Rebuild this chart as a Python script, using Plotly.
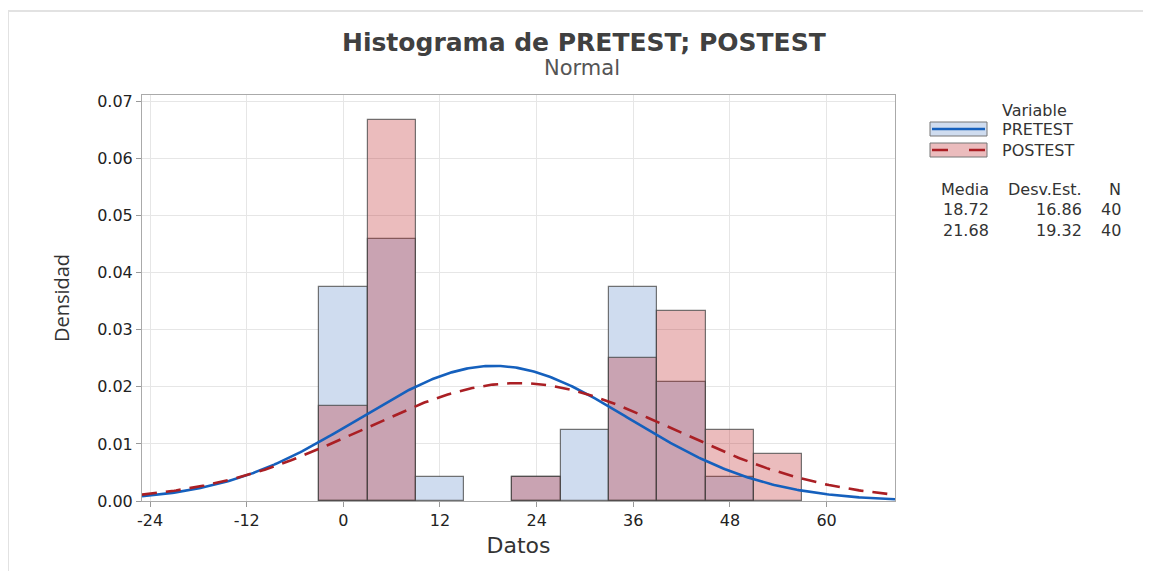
import numpy as np
import plotly.graph_objects as go

# ---- data ----
bin_centers = [0, 6, 12, 18, 24, 30, 36, 42, 48, 54]
bin_width = 6
pretest_density = [0.0375, 0.0458, 0.0042, None, 0.0042, 0.0125, 0.0375, 0.0208, 0.0042, None]
postest_density = [0.0167, 0.0667, None, None, 0.0042, None, 0.0250, 0.0333, 0.0125, 0.0083]

series_names = ["PRETEST", "POSTEST"]
means = [18.72, 21.68]
stdevs = [16.86, 19.32]
counts = [40, 40]

x_ticks = [-24, -12, 0, 12, 24, 36, 48, 60]
x_tick_labels = ["-24", "-12", "0", "12", "24", "36", "48", "60"]
y_ticks = [0.00, 0.01, 0.02, 0.03, 0.04, 0.05, 0.06, 0.07]

# ---- layout geometry (reference page pixels) ----
OFF = 8  # default body margin of the html page
W, H = 1151 - OFF, 571 - OFF
L, R, T, B = 142, 895, 95, 501
FONT = "DejaVu Sans"


def px(x):
    return (x - L) / (R - L)


def py(y):
    return (B - y) / (B - T)


x_range = [-25.0, 68.5]
y_range = [0, 0.0711]

fig = go.Figure()

outline = dict(color="rgba(70,70,70,0.75)", width=1.2)
fig.add_trace(go.Bar(x=bin_centers, y=pretest_density, width=bin_width,
                     marker=dict(color="#cfdcef", line=outline),
                     name=series_names[0], showlegend=False))
fig.add_trace(go.Bar(x=bin_centers, y=postest_density, width=bin_width,
                     marker=dict(color="rgba(188,32,35,0.30)", line=outline),
                     name=series_names[1], showlegend=False))

# fitted normal curves from the stated mean / st.dev.
xs = np.linspace(x_range[0], x_range[1], 400)
curve_styles = [dict(color="#1560bd", width=2.6, dash="solid"),
                dict(color="#aa1f24", width=2.6, dash="15px,9px")]
for m, s, st, nm in zip(means, stdevs, curve_styles, series_names):
    ys = np.exp(-0.5 * ((xs - m) / s) ** 2) / (s * np.sqrt(2 * np.pi))
    fig.add_trace(go.Scatter(x=xs, y=ys, mode="lines", line=st, name=nm,
                             showlegend=False, hoverinfo="skip"))

fig.update_layout(
    width=W, height=H,
    margin=dict(l=L - OFF, r=1151 - R, t=T - OFF, b=571 - B),
    paper_bgcolor="white", plot_bgcolor="white",
    barmode="overlay", bargap=0,
    font=dict(family=FONT, color="#222", size=16),
    showlegend=False,
)
fig.update_xaxes(range=x_range, tickvals=x_ticks, ticktext=x_tick_labels,
                 ticks="outside", ticklen=5,
                 tickcolor="#999", showgrid=True, gridcolor="#e6e6e6",
                 showline=True, linecolor="#aaaaaa", mirror=True, zeroline=False,
                 tickfont=dict(size=16, color="#222"),
                 title=dict(text="Datos", font=dict(size=22, color="#333"), standoff=8))
fig.update_yaxes(range=y_range, tickvals=y_ticks, tickformat=".2f", ticks="outside",
                 ticklen=5, tickcolor="#999", showgrid=True, gridcolor="#e6e6e6",
                 showline=True, linecolor="#aaaaaa", mirror=True, zeroline=False,
                 tickfont=dict(size=16, color="#222"),
                 title=dict(text="Densidad", font=dict(size=20, color="#333", family="Open Sans"),
                            standoff=22))

annotations = []
shapes = []


def text_at(x, y, text, size, xanchor="center", color="#333", family=FONT):
    annotations.append(dict(x=px(x), y=py(y), xref="paper", yref="paper",
                            xanchor=xanchor, yanchor="middle", text=text, showarrow=False,
                            font=dict(size=size, color=color, family=family)))


# title and subtitle
text_at(584, 42, "<b>Histograma de PRETEST; POSTEST</b>", 25, color="#404040")
text_at(582, 68, "Normal", 21, color="#555")

# legend
text_at(1000, 110, "Variable", 16, xanchor="left")
legend_fill = ["#cfdcef", "#ebbcbd"]
legend_rows = [129, 150]
for nm, fill, st, yc in zip(series_names, legend_fill, curve_styles, legend_rows):
    shapes.append(dict(type="rect", xref="paper", yref="paper",
                       x0=px(930), x1=px(987), y0=py(yc - 7), y1=py(yc + 7),
                       fillcolor=fill, line=dict(color="#777", width=1)))
    shapes.append(dict(type="line", xref="paper", yref="paper",
                       x0=px(932), x1=px(985), y0=py(yc), y1=py(yc),
                       line=dict(color=st["color"], width=2.6,
                                 dash="solid" if st["dash"] == "solid" else "16px,21px")))
    text_at(1000, yc, nm, 16, xanchor="left")

# statistics table
col_right = [991, 1084, 1123]
header = ["Media", "Desv.Est.", "N"]
for h, xr in zip(header, col_right):
    text_at(xr, 189, h, 16, xanchor="right")
for row_y, m, s, n in zip([209, 230], means, stdevs, counts):
    for val, xr in zip([f"{m:.2f}", f"{s:.2f}", f"{n}"], col_right):
        text_at(xr, row_y, val, 16, xanchor="right")

# faint outer frame of the picture
shapes.append(dict(type="line", xref="paper", yref="paper", x0=px(8), x1=px(1151),
                   y0=py(11), y1=py(11), line=dict(color="#e2e2e2", width=2)))
shapes.append(dict(type="line", xref="paper", yref="paper", x0=px(8), x1=px(8),
                   y0=py(11), y1=py(571), line=dict(color="#e2e2e2", width=2)))

fig.update_layout(annotations=annotations, shapes=shapes)
fig.write_html("out.html")
